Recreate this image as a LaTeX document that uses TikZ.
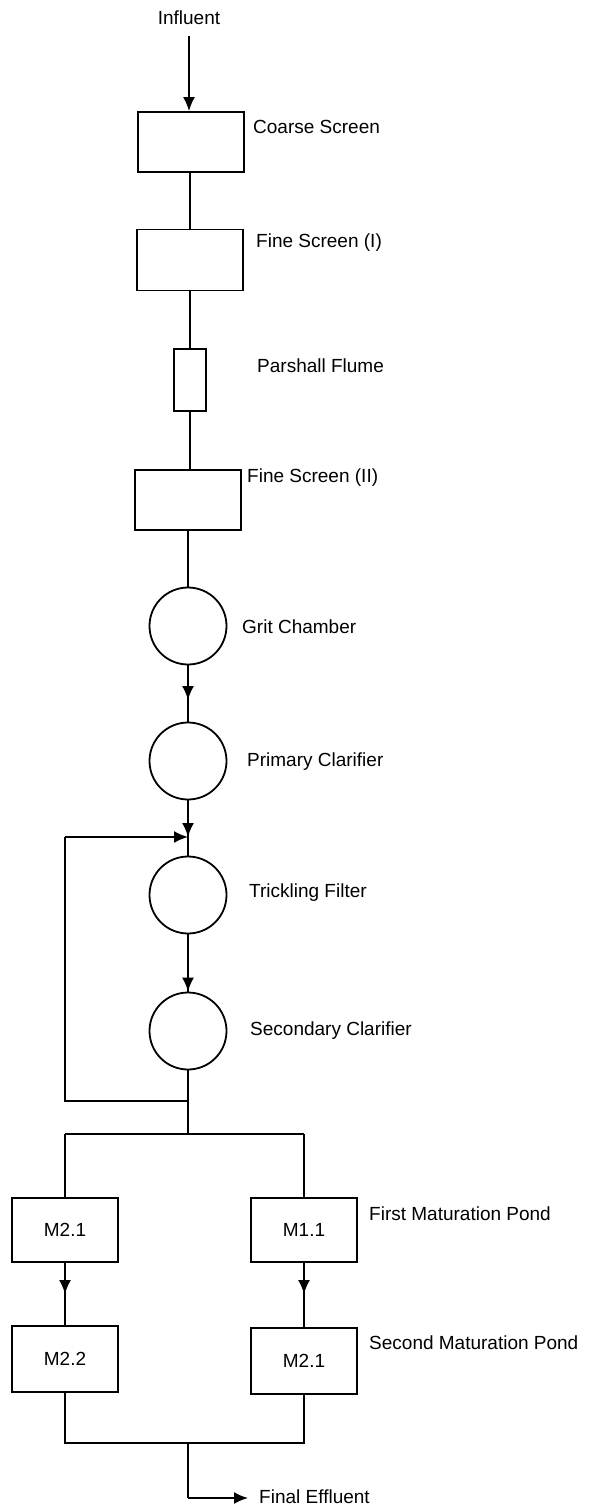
\documentclass[tikz,border=0pt]{standalone}
\usepackage{fontspec}
\setmainfont{Liberation Sans}
\usetikzlibrary{arrows.meta,calc}
\begin{document}
\begin{tikzpicture}[x=1pt,y=-1pt,
  every node/.style={font=\fontsize{19}{21}\selectfont},
  ln/.style={line width=1.8pt},
  arr/.style={line width=1.8pt,-{Latex[length=14pt,width=12pt]}},
  boxA/.style={draw,line width=1.8pt,minimum width=106pt,minimum height=60pt,inner sep=0pt},
  pond/.style={draw,line width=1.8pt,minimum width=106pt,minimum height=64pt,inner sep=0pt},
  flume/.style={draw,line width=1.8pt,minimum width=32pt,minimum height=62pt,inner sep=0pt},
  tank/.style={draw,circle,line width=1.8pt,minimum size=77pt,inner sep=0pt},
  lbl/.style={anchor=west,inner sep=0pt}]
\useasboundingbox (0,0) rectangle (592,1507);
% nodes
\node[inner sep=0pt] (inf) at (189,18) {Influent};
\node[boxA] (coarse) at (191,142) {};
\node[lbl] (coarseL) at (253,127) {Coarse Screen};
\node[boxA,minimum height=61pt] (fine1) at (190,260) {};
\node[lbl] (fine1L) at (256,243) {Fine Screen (I)};
\node[flume] (flume) at (190,380) {};
\node[lbl] (flumeL) at (257,366) {Parshall Flume};
\node[boxA] (fine2) at (188,500) {};
\node[lbl] (fine2L) at (247,478) {Fine Screen (II)};
\node[tank] (grit) at (188,626) {};
\node[lbl] (gritL) at (242,627) {Grit Chamber};
\node[tank] (prim) at (188,761) {};
\node[lbl] (primL) at (247,762) {Primary Clarifier};
\coordinate (join) at (188,837);
\node[tank] (trick) at (188,895) {};
\node[lbl] (trickL) at (249,893) {Trickling Filter};
\node[tank] (sec) at (188,1031) {};
\node[lbl] (secL) at (250,1031) {Secondary Clarifier};
\coordinate (fb) at (188,1101);
\coordinate (fbL) at (65,1101);
\coordinate (fbT) at (65,837);
\coordinate (split) at (188,1134);
\coordinate (splitL) at (65,1134);
\coordinate (splitR) at (304,1134);
\node[pond] (m21) at (65,1230) {M2.1};
\node[pond] (m11) at (304,1230) {M1.1};
\node[lbl] (firstL) at (369,1214) {First Maturation Pond};
\node[pond,minimum height=66pt] (m22) at (65,1359) {M2.2};
\node[pond,minimum height=66pt] (m21b) at (304,1361) {M2.1};
\node[lbl] (secondL) at (369,1343) {Second Maturation Pond};
\coordinate (botL) at (65,1443);
\coordinate (botR) at (304,1443);
\coordinate (bot) at (188,1443);
\coordinate (eff) at (188,1498);
\node[lbl] (effL) at (259,1497) {Final Effluent};
\coordinate (effTip) at (248,1498);
% connectors
\draw[arr] (inf.south |- 0,36) -- (coarse.north -| inf.south);
\draw[ln] (coarse.south -| fine1.north) -- (fine1.north);
\draw[ln] (fine1.south) -- (flume.north);
\draw[ln] (flume.south) -- (flume.south |- fine2.north);
\draw[ln] (fine2.south) -- (grit.north);
\draw[ln] (grit.south) -- (prim.north);
\draw[arr] (grit.south) -- (188,700);
\draw[ln] (prim.south) -- (trick.north);
\draw[arr] (prim.south) -- (join);
\draw[arr] (fbT) -- (join);
\draw[ln] (trick.south) -- (sec.north);
\draw[arr] (trick.south) -- (sec.north);
\draw[ln] (sec.south) -- (split);
\draw[ln] (fb) -- (fbL) -- (fbT);
\draw[ln] (splitL) -- (splitR);
\draw[ln] (splitL) -- (m21.north);
\draw[ln] (splitR) -- (m11.north);
\draw[ln] (m21.south) -- (m22.north);
\draw[arr] (m21.south) -- (65,1294);
\draw[ln] (m11.south) -- (m21b.north);
\draw[arr] (m11.south) -- (304,1294);
\draw[ln] (m22.south) -- (botL) -- (botR) -- (m21b.south);
\draw[ln] (bot) -- (eff);
\draw[arr] (eff) -- (effTip);
\end{tikzpicture}
\end{document}
